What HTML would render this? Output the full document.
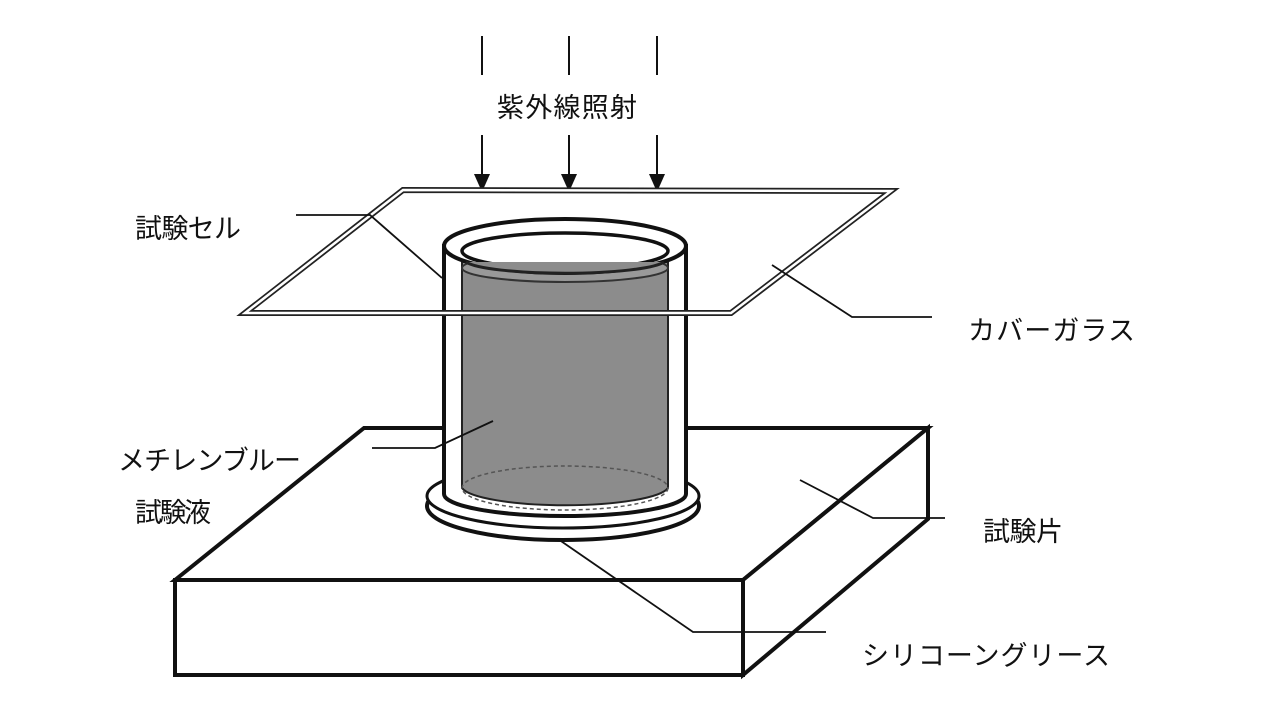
<!DOCTYPE html>
<html><head><meta charset="utf-8"><style>
html,body{margin:0;padding:0;background:#fff;}
svg{display:block}
text{font-family:"Liberation Sans","Noto Sans CJK JP",sans-serif;fill:#111;}
</style></head><body>
<svg width="1280" height="720" viewBox="0 0 1280 720" xmlns="http://www.w3.org/2000/svg">
<rect width="1280" height="720" fill="#fff"/>
<g stroke="#111" fill="none">
<!-- UV dashes -->
<line x1="482" y1="36" x2="482" y2="75" stroke-width="2"/>
<line x1="569" y1="36" x2="569" y2="75" stroke-width="2"/>
<line x1="657" y1="36" x2="657" y2="75" stroke-width="2"/>
<line x1="482" y1="135" x2="482" y2="178" stroke-width="2"/>
<line x1="569" y1="135" x2="569" y2="178" stroke-width="2"/>
<line x1="657" y1="135" x2="657" y2="178" stroke-width="2"/>
</g>
<g fill="#111">
<polygon points="474,174 490,174 482,192"/>
<polygon points="561,174 577,174 569,192"/>
<polygon points="649,174 665,174 657,192"/>
</g>
<!-- box -->
<g stroke="#111" stroke-width="4" fill="#fff" stroke-linejoin="miter">
<polygon points="175,580 364,428 928,428 743,580"/>
<polygon points="743,580 928,428 928,519 743,675"/>
<rect x="175" y="580" width="568" height="95"/>
</g>
<!-- flange -->
<g stroke="#111" fill="#fff">
<ellipse cx="563" cy="506" rx="136" ry="34" stroke-width="4"/>
<ellipse cx="563" cy="496" rx="136" ry="32" stroke-width="3"/>
</g>
<!-- cylinder -->
<path d="M444,246 L444,494 A121,22 0 0 0 686,494 L686,246 Z" fill="#fff" stroke="#111" stroke-width="4"/>
<path d="M462,262 L462,488 A104,20 0 0 0 668,488 L668,262 Z" fill="#8c8c8c" stroke="#222" stroke-width="2"/>
<ellipse cx="565" cy="488" rx="103" ry="22" fill="none" stroke="#555" stroke-width="1.5" stroke-dasharray="4,3"/>
<ellipse cx="565" cy="268" rx="103" ry="14" fill="#999" stroke="#333" stroke-width="2"/>
<ellipse cx="565" cy="246" rx="121" ry="27" fill="#fff" stroke="#111" stroke-width="4"/>
<ellipse cx="565" cy="251" rx="103" ry="18" fill="#fff" stroke="#111" stroke-width="3.5"/>
<path d="M466,262 A101,14 0 0 0 664,262" fill="#8c8c8c" stroke="#222" stroke-width="3"/>
<!-- glass plate -->
<g fill="none" stroke="#222">
<polygon points="403,190 891,191 731,313 245,313" stroke-width="6"/>
<polygon points="403,190 891,191 731,313 245,313" stroke="#fff" stroke-width="2.5"/>
</g>
<!-- leaders -->
<g stroke="#111" stroke-width="1.8" fill="none">
<polyline points="296,215 370,215 442,278"/>
<polyline points="772,265 852,317 932,317"/>
<polyline points="372,448 435,448 493,421"/>
<polyline points="800,480 873,518 945,518"/>
<polyline points="558,539 693,632 826,632"/>
</g>
<g font-size="27">
<text x="497" y="117" textLength="140">紫外線照射</text>
<text x="135" y="238" textLength="106">試験セル</text>
<text x="968" y="340" textLength="167">カバーガラス</text>
<text x="118" y="470" textLength="183">メチレンブルー</text>
<text x="135" y="522" textLength="76">試験液</text>
<text x="983" y="541" textLength="80">試験片</text>
<text x="862" y="665" textLength="248">シリコーングリース</text>
</g>
</svg>
</body></html>
